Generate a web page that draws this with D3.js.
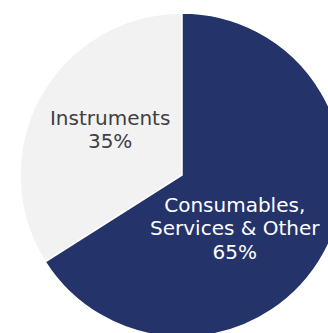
<!DOCTYPE html>
<html>
<head>
<meta charset="utf-8">
<script src="https://cdn.jsdelivr.net/npm/d3@7"></script>
<style>
  body { margin: 0; background: #fff; }
  svg text { font-family: Verdana, "DejaVu Sans", sans-serif; }
</style>
</head>
<body>
<div id="chart"></div>
<script>
// slice sizes as drawn in the picture (labels print the rounded figures)
var segments = ['Instruments', 'Consumables, Services & Other']
var shares = [34, 66]
var labelLines = [['Instruments', '35%'], ['Consumables,', 'Services & Other', '65%']]
var colors = ['#f2f2f2', '#24346b']
var textColors = ['#404040', '#ffffff']

var width = 328
var height = 333
var cx = 182
var cy = 175
var radius = 162

var svg = d3.select('#chart')
    .append('svg')
    .attr('width', width)
    .attr('height', height)

var g = svg.append('g')
    .attr('transform', 'translate(' + cx + ',' + cy + ')')

var data = segments.map(function (s, i) {
    return { name: s, value: shares[i], lines: labelLines[i], i: i }
})

// instruments runs counter-clockwise from 12 o'clock
var start = -shares[0] / 100 * 2 * Math.PI
var pie = d3.pie()
    .value(function (d) { return d.value })
    .sort(null)
    .startAngle(start)
    .endAngle(start + 2 * Math.PI)

var arc = d3.arc().innerRadius(0).outerRadius(radius)

var arcs = pie(data)

g.selectAll('path')
    .data(arcs)
    .enter()
    .append('path')
    .attr('d', arc)
    .attr('fill', function (d) { return colors[d.data.i] })
    .attr('stroke', '#ffffff')
    .attr('stroke-width', 1.5)

// label anchors: radius along the slice plus a nudge
var labelArc = [d3.arc().innerRadius(82).outerRadius(82), d3.arc().innerRadius(75).outerRadius(75)]
var nudge = [[0, -6], [-13, 17]]
var lineH = 23.5
var fontSize = 20

arcs.forEach(function (a) {
    var i = a.data.i
    var c = labelArc[i].centroid(a)
    var x = c[0] + nudge[i][0]
    var y = c[1] + nudge[i][1]
    var n = a.data.lines.length
    var t = g.append('text')
        .attr('text-anchor', 'middle')
        .attr('font-size', fontSize)
        .attr('fill', textColors[i])
    a.data.lines.forEach(function (line, k) {
        t.append('tspan')
            .attr('x', x)
            .attr('y', y + (k - (n - 1) / 2) * lineH + fontSize * 0.36)
            .text(line)
    })
})
</script>
</body>
</html>
